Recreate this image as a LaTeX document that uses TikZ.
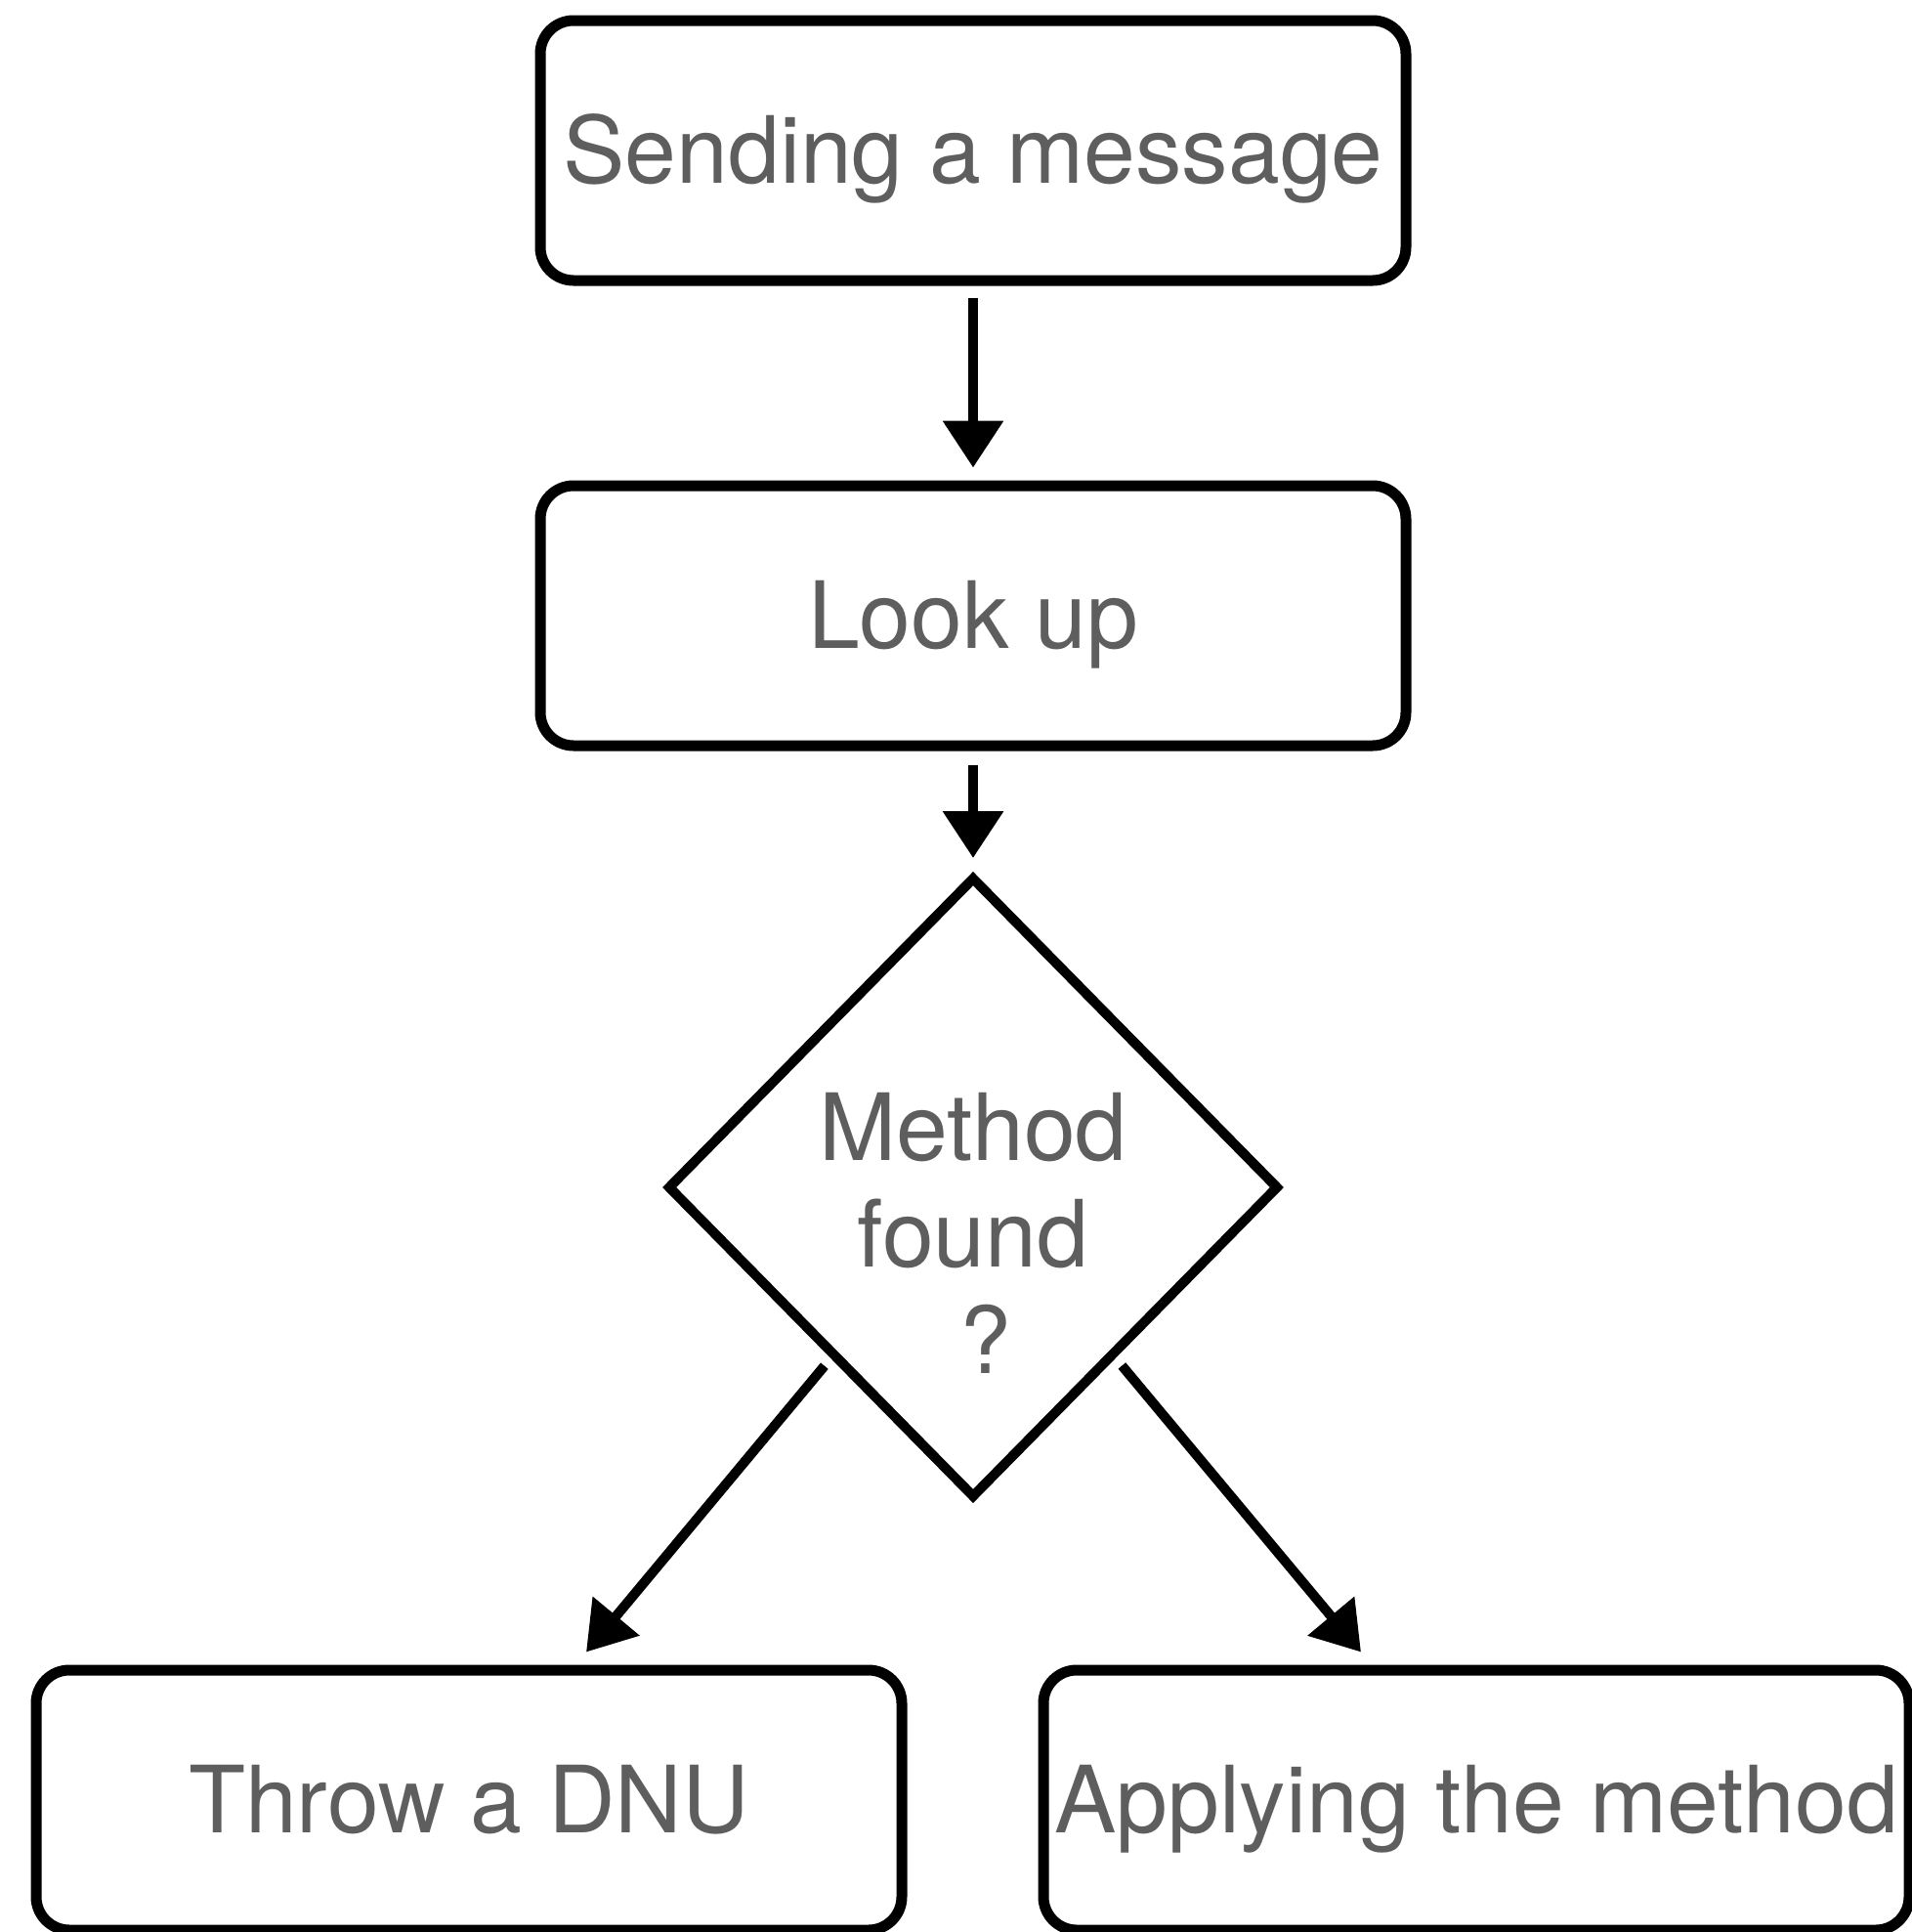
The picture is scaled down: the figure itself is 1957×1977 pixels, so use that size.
\documentclass[tikz,border=0pt]{standalone}
\usepackage{fontspec}
\setmainfont{TeX Gyre Heros}
\usetikzlibrary{shapes.geometric,arrows.meta,calc}
\definecolor{txtgray}{HTML}{5E5E5E}
\tikzset{
  box/.style={draw=black, line width=5.5pt, rounded corners=17pt, rectangle,
    minimum width=443pt, minimum height=133pt, inner sep=0pt,
    text=txtgray, font=\fontsize{47.5}{54.5}\selectfont,
    text height=33pt, text depth=0pt},
  decision/.style={draw=black, line width=5pt, diamond, inner sep=0pt,
    minimum width=313pt, minimum height=318pt},
  dtext/.style={text=txtgray, font=\fontsize{47.5}{54.5}\selectfont,
    align=center, inner sep=0pt},
  arr/.style={line width=5pt, draw=black,
    -{Triangle[length=24pt,width=30pt]}}
}
\begin{document}
\begin{tikzpicture}[x=0.5pt,y=-0.5pt]
\useasboundingbox (0,0) rectangle (1957,1977);
\node[box] (send) at (996,154) {Sending a message};
\node[box] (look) at (996,630) {Look up};
\node[decision] (dec) at (996,1215) {};
\node[dtext] (dq) at (996,1262) {Method\\found\\\mbox{}\ ?};
\node[box] (throw) at (480,1842) {Throw a DNU};
\node[box] (apply) at (1511,1842) {Applying the method};
\coordinate (tl) at ($(throw.north)+(120,-13)$);
\coordinate (tr) at ($(apply.north)+(-118,-13)$);
\draw[arr, shorten <=6pt, shorten >=6.5pt] (send) -- (look);
\draw[arr, shorten <=7pt, shorten >=7pt] (look) -- (dec);
\draw[arr, shorten <=5pt] (dec) -- (tl);
\draw[arr, shorten <=5pt] (dec) -- (tr);
\end{tikzpicture}
\end{document}
